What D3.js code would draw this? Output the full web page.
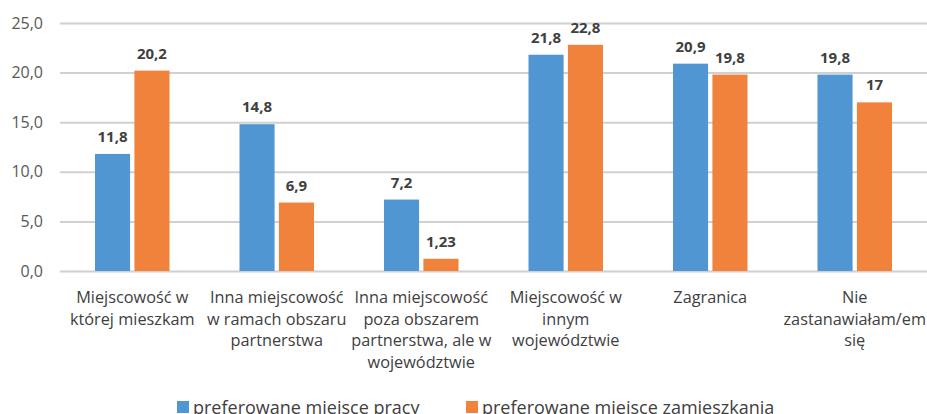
<!DOCTYPE html>
<html>
<head>
<meta charset="utf-8">
<script src="https://cdn.jsdelivr.net/npm/d3@7"></script>
<style>
  body { margin: 0; background: #fff; }
  text { font-family: "Open Sans", sans-serif; }
</style>
</head>
<body>
<div id="chart"></div>
<script>
var categories = [
    ["Miejscowość w", "której mieszkam"],
    ["Inna miejscowość", "w ramach obszaru", "partnerstwa"],
    ["Inna miejscowość", "poza obszarem", "partnerstwa, ale w", "województwie"],
    ["Miejscowość w", "innym", "województwie"],
    ["Zagranica"],
    ["Nie", "zastanawiałam/em", "się"]
];
var seriesNames = ["preferowane miejsce pracy", "preferowane miejsce zamieszkania"];
var pracy = [11.8, 14.8, 7.2, 21.8, 20.9, 19.8];
var zamieszkania = [20.2, 6.9, 1.23, 22.8, 19.8, 17];
var valueLabels = [
    ["11,8", "14,8", "7,2", "21,8", "20,9", "19,8"],
    ["20,2", "6,9", "1,23", "22,8", "19,8", "17"]
];
var yTicks = [0, 5, 10, 15, 20, 25];
var colors = ["#5096d2", "#f0823c"];

var width = 927, height = 414;
var margin = {top: 23, right: 0, bottom: 143, left: 60};
var innerWidth = width - margin.left - margin.right,
    innerHeight = height - margin.top - margin.bottom;

var svg = d3.select("#chart").append("svg")
    .attr("width", width)
    .attr("height", height);

var g = svg.append("g")
    .attr("transform", "translate(" + margin.left + "," + margin.top + ")");

var x0 = d3.scaleBand()
    .domain(d3.range(categories.length))
    .range([0, innerWidth]);

var x1 = d3.scaleBand()
    .domain([0, 1])
    .range([35, x0.bandwidth() - 35])
    .paddingInner(0.11);

var y = d3.scaleLinear()
    .domain([0, 25])
    .range([innerHeight, 0]);

// gridlines
g.selectAll(".grid")
    .data(yTicks)
    .enter().append("line")
    .attr("class", "grid")
    .attr("x1", 0)
    .attr("x2", innerWidth)
    .attr("y1", function(d) { return y(d) + 0.5; })
    .attr("y2", function(d) { return y(d) + 0.5; })
    .attr("stroke", "#d0d0d0")
    .attr("stroke-width", 2);

// y axis labels
var yAxis = g.append("g")
    .call(d3.axisLeft(y).tickValues(yTicks).tickSize(0).tickPadding(17)
        .tickFormat(function(d) { return d3.format(".1f")(d).replace(".", ","); }));
yAxis.select(".domain").remove();
yAxis.selectAll("text")
    .attr("fill", "#595959")
    .style("font-family", "'Open Sans', sans-serif")
    .style("font-size", "16px");

var series = [pracy, zamieszkania];

series.forEach(function(vals, si) {
    var grp = g.append("g");
    grp.selectAll("rect")
        .data(vals)
        .enter().append("rect")
        .attr("x", function(d, i) { return x0(i) + x1(si); })
        .attr("y", function(d) { return y(d); })
        .attr("width", x1.bandwidth())
        .attr("height", function(d) { return innerHeight - y(d); })
        .attr("fill", colors[si]);

    grp.selectAll("text")
        .data(vals)
        .enter().append("text")
        .attr("x", function(d, i) { return x0(i) + x1(si) + x1.bandwidth() / 2; })
        .attr("y", function(d) { return y(d) - 12; })
        .attr("text-anchor", "middle")
        .attr("fill", "#404040")
        .style("font-size", "15px")
        .style("font-weight", "bold")
        .text(function(d, i) { return valueLabels[si][i]; });
});

// category labels
var catG = g.append("g")
    .attr("transform", "translate(0," + innerHeight + ")");
catG.selectAll("text")
    .data(categories)
    .enter().append("text")
    .attr("x", function(d, i) { return x0(i) + x0.bandwidth() / 2; })
    .attr("y", 32)
    .attr("text-anchor", "middle")
    .attr("fill", "#404040")
    .style("font-size", "16.3px")
    .each(function(lines) {
        var t = d3.select(this);
        lines.forEach(function(l, k) {
            t.append("tspan")
                .attr("x", t.attr("x"))
                .attr("dy", k === 0 ? 0 : 21.7)
                .text(l);
        });
    });

// legend (cut by the bottom edge, as in the source)
var legend = svg.append("g");
var legendX = [177, 466];
seriesNames.forEach(function(name, i) {
    legend.append("rect")
        .attr("x", legendX[i])
        .attr("y", 401)
        .attr("width", 12)
        .attr("height", 12)
        .attr("fill", colors[i]);
    legend.append("text")
        .attr("x", legendX[i] + 16)
        .attr("y", 414)
        .attr("fill", "#404040")
        .style("font-size", "18px")
        .text(name);
});
</script>
</body>
</html>
